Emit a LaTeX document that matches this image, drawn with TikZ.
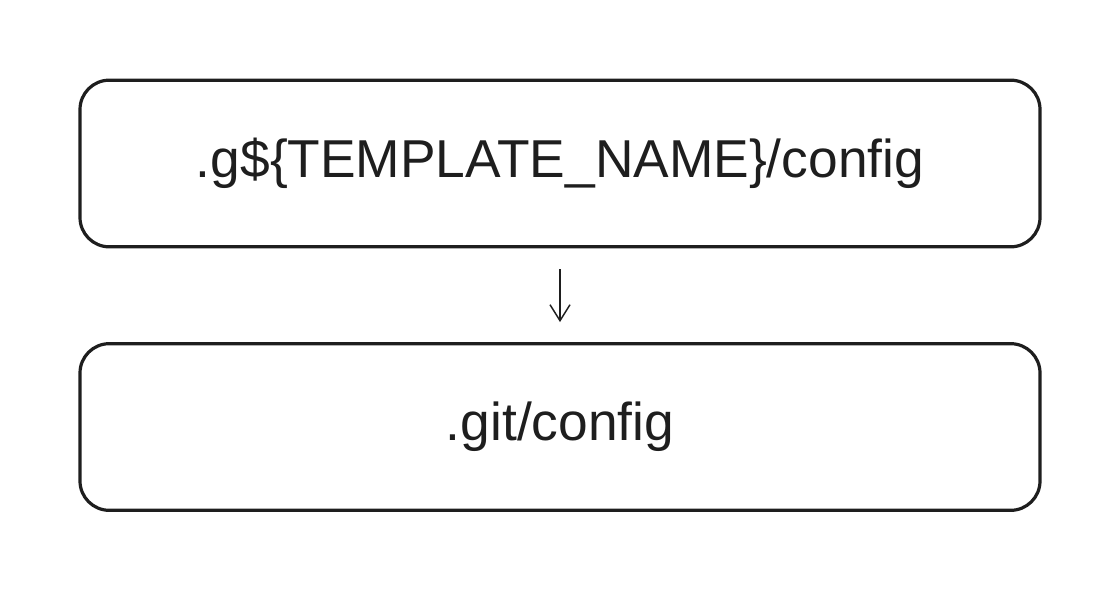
\documentclass[tikz,border=0pt]{standalone}
\usepackage{fontspec}
\setmainfont{Liberation Sans}
\usetikzlibrary{arrows.meta}
\definecolor{ink}{HTML}{1E1E1E}
\newcommand{\lowertext}[1]{\raisebox{-4pt}{#1}}
\begin{document}
\begin{tikzpicture}[x=0.75pt,y=-0.75pt,
  box/.style={draw=ink,line width=2.4pt,rounded corners=22pt,minimum width=720pt,minimum height=125pt,inner sep=0pt,
    font=\fontsize{40}{46}\selectfont,text=ink},
  conn/.style={draw=ink,line width=1.1pt,-{Straight Barb[length=12pt,width=15pt,line width=1.1pt]}}]
\useasboundingbox (0,0) rectangle (1120,592);
\node[box] (a) at (560,163.5) {\lowertext{.g\$\{TEMPLATE\_NAME\}/config}};
\node[box] (b) at (560,427) {\lowertext{.git/config}};
\draw[conn,shorten <=15.75pt,shorten >=15pt] (a.south) -- (b.north);
\end{tikzpicture}
\end{document}
